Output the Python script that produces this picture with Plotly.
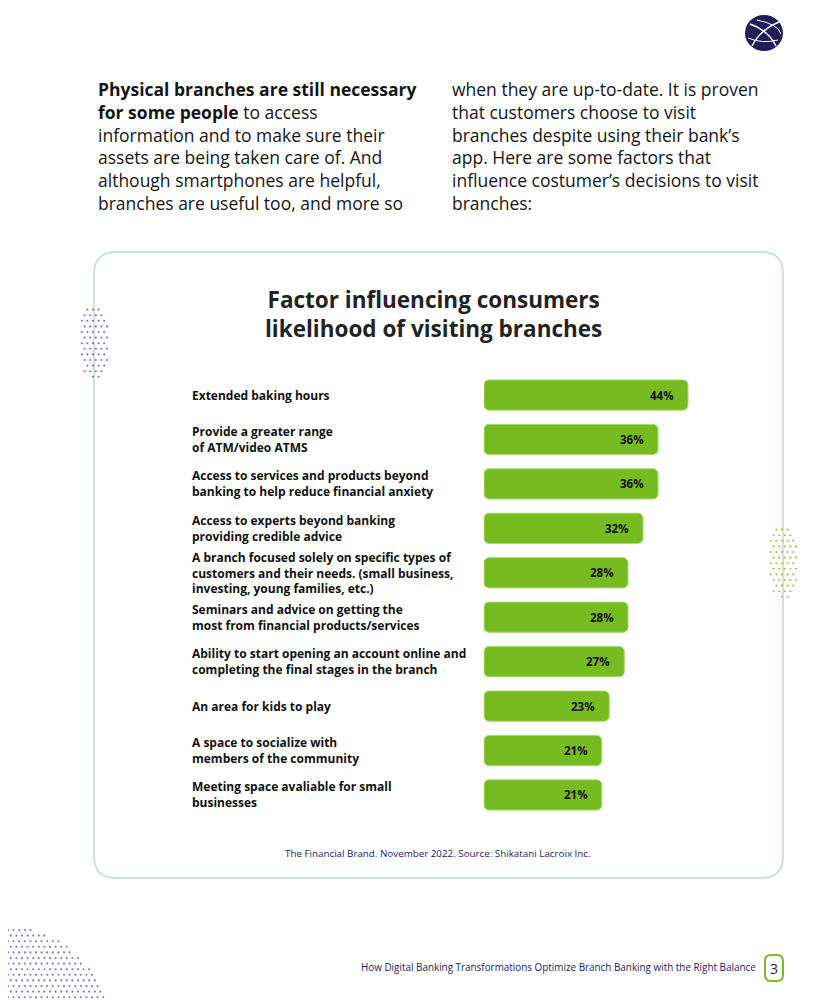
import numpy as np
import plotly.graph_objects as go

# ---------------- data ----------------
factors = [
    "Extended baking hours",
    "Provide a greater range<br>of ATM/video ATMS",
    "Access to services and products beyond<br>banking to help reduce financial anxiety",
    "Access to experts beyond banking<br>providing credible advice",
    "A branch focused solely on specific types of<br>customers and their needs. (small business,<br>investing, young families, etc.)",
    "Seminars and advice on getting the<br>most from financial products/services",
    "Ability to start opening an account online and<br>completing the final stages in the branch",
    "An area for kids to play",
    "A space to socialize with<br>members of the community",
    "Meeting space avaliable for small<br>businesses",
]
values = [44, 36, 36, 32, 28, 28, 27, 23, 21, 21]
value_labels = [f"{v}%" for v in values]

title_lines = ["Factor influencing consumers", "likelihood of visiting branches"]
source_text = "The Financial Brand. November 2022. Source: Shikatani Lacroix Inc."
footer_text = "How Digital Banking Transformations Optimize Branch Banking with the Right Balance"
page_number = "3"

left_lines = [
    "<b>Physical branches are still necessary</b>",
    "<b>for some people</b> to access",
    "information and to make sure their",
    "assets are being taken care of. And",
    "although smartphones are helpful,",
    "branches are useful too, and more so",
]
right_lines = [
    "when they are up-to-date. It is proven",
    "that customers choose to visit",
    "branches despite using their bank’s",
    "app. Here are some factors that",
    "influence costumer’s decisions to visit",
    "branches:",
]

# ---------------- style ----------------
PW, PH = 834, 1000          # page (window) size
OFF = 8                     # default html body margin
W, H = PW - OFF, PH - OFF   # figure size
FONT = "Open Sans"
GREEN = "#76bc21"
NAVY = "#1b1b5e"
BAR_BASE = -10.4
ids = list(range(len(values)))

fig = go.Figure()

def ellipse_dots(cx, cy, rx, ry, step, color):
    xs, ys = [], []
    for j, yy in enumerate(np.arange(cy - ry, cy + ry + 0.1, step)):
        off = (step / 2) if j % 2 else 0
        for xx in np.arange(cx - rx + off, cx + rx + 0.1, step):
            if ((xx - cx) / rx) ** 2 + ((yy - cy) / ry) ** 2 <= 1:
                xs.append(xx); ys.append(yy)
    fig.add_trace(go.Scatter(x=xs, y=ys, mode="markers", xaxis="x", yaxis="y",
                             marker=dict(size=2.1, color=color), hoverinfo="skip",
                             showlegend=False))

ellipse_dots(94, 342, 15, 38, 5.6, "#7471d8")
ellipse_dots(783, 562, 15, 38, 5.6, "#92c94a")

bx, by = [], []
for j, yy in enumerate(np.arange(930, 1004, 5.6)):
    off = 2.8 if j % 2 else 0
    for xx in np.arange(OFF + off, 130, 5.6):
        if xx ** 2 + (yy - 1040) ** 2 <= 115 ** 2:
            bx.append(xx); by.append(yy)
fig.add_trace(go.Scatter(x=bx, y=by, mode="markers", xaxis="x", yaxis="y",
                         marker=dict(size=2.1, color="#7471d8"), hoverinfo="skip",
                         showlegend=False))

fig.add_trace(go.Bar(
    x=[v - BAR_BASE for v in values], base=BAR_BASE, y=ids, orientation="h",
    xaxis="x2", yaxis="y2",
    marker=dict(color=GREEN, line=dict(color="#a8d66e", width=1)),
    width=0.68, hoverinfo="skip", showlegend=False,
))

def rrect(x0, y0, x1, y1, r):
    return (f"M{x0+r},{y0} L{x1-r},{y0} Q{x1},{y0} {x1},{y0+r} L{x1},{y1-r} "
            f"Q{x1},{y1} {x1-r},{y1} L{x0+r},{y1} Q{x0},{y1} {x0},{y1-r} "
            f"L{x0},{y0+r} Q{x0},{y0} {x0+r},{y0} Z")

shapes = [
    dict(type="path", path=rrect(94, 252, 783, 878, 22), xref="x", yref="y",
         line=dict(color="#b9dcd8", width=1.5), fillcolor="rgba(0,0,0,0)", layer="below"),
    dict(type="path", path=rrect(765, 955, 783, 981, 6), xref="x", yref="y",
         line=dict(color="#7ab82a", width=2), fillcolor="white"),
    dict(type="circle", x0=745, y0=15, x1=783, y1=51, xref="x", yref="y",
         line=dict(width=0), fillcolor="#1f1d5c"),
    dict(type="path", path="M750,24 Q768,30 776,46", xref="x", yref="y",
         line=dict(color="white", width=1.4)),
    dict(type="path", path="M779,22 Q760,30 752,46", xref="x", yref="y",
         line=dict(color="white", width=1.4)),
    dict(type="path", path="M757,20 Q778,24 781,34", xref="x", yref="y",
         line=dict(color="white", width=1.0)),
    dict(type="path", path="M748,38 Q762,44 778,40", xref="x", yref="y",
         line=dict(color="white", width=1.0)),
]

ann = []
for x0, lines in ((96, left_lines), (450, right_lines)):
    ann.append(dict(x=x0, y=75, xref="x", yref="y", text="<br>".join(lines),
                    xanchor="left", yanchor="top", align="left", showarrow=False,
                    font=dict(family=FONT, size=17.5, color="#151515")))

ann.append(dict(x=433, y=314, xref="x", yref="y",
                text="<b>" + "<br>".join(title_lines) + "</b>",
                showarrow=False, xanchor="center", yanchor="middle", align="center",
                font=dict(family=FONT, size=22.5, color="#222222")))

for i, (f, lab, v) in enumerate(zip(factors, value_labels, values)):
    ann.append(dict(x=190, y=i, xref="x", yref="y2", text=f"<b>{f}</b>",
                    showarrow=False, xanchor="left", yanchor="middle", align="left",
                    font=dict(family=FONT, size=12, color="#111111")))
    ann.append(dict(x=v, y=i, xref="x2", yref="y2", text=f"<b>{lab}</b>",
                    showarrow=False, xanchor="right", yanchor="middle", xshift=-12,
                    font=dict(family=FONT, size=11.5, color="#111111")))

ann.append(dict(x=438, y=853, xref="x", yref="y", text=source_text, showarrow=False,
                xanchor="center", yanchor="middle",
                font=dict(family=FONT, size=9.8, color=NAVY)))
ann.append(dict(x=758, y=967, xref="x", yref="y", text=footer_text, showarrow=False,
                xanchor="right", yanchor="middle",
                font=dict(family=FONT, size=9.9, color=NAVY)))
ann.append(dict(x=774, y=968, xref="x", yref="y", text=page_number, showarrow=False,
                xanchor="center", yanchor="middle",
                font=dict(family=FONT, size=14, color=NAVY)))

fig.update_layout(
    width=W, height=H, margin=dict(l=0, r=0, t=0, b=0, autoexpand=False),
    paper_bgcolor="white", plot_bgcolor="rgba(0,0,0,0)",
    barcornerradius=5,
    xaxis=dict(domain=[0, 1], range=[OFF, PW], visible=False, fixedrange=True),
    yaxis=dict(domain=[0, 1], range=[PH, OFF], visible=False, fixedrange=True),
    xaxis2=dict(domain=[(484 - OFF) / W, (710.5 - OFF) / W], range=[BAR_BASE, 50],
                visible=False, anchor="y2", fixedrange=True),
    yaxis2=dict(domain=[1 - (817.2 - OFF) / H, 1 - (372.8 - OFF) / H], range=[9.5, -0.5],
                visible=False, anchor="x2", fixedrange=True),
    shapes=shapes, annotations=ann,
)

fig.write_html("out.html")
